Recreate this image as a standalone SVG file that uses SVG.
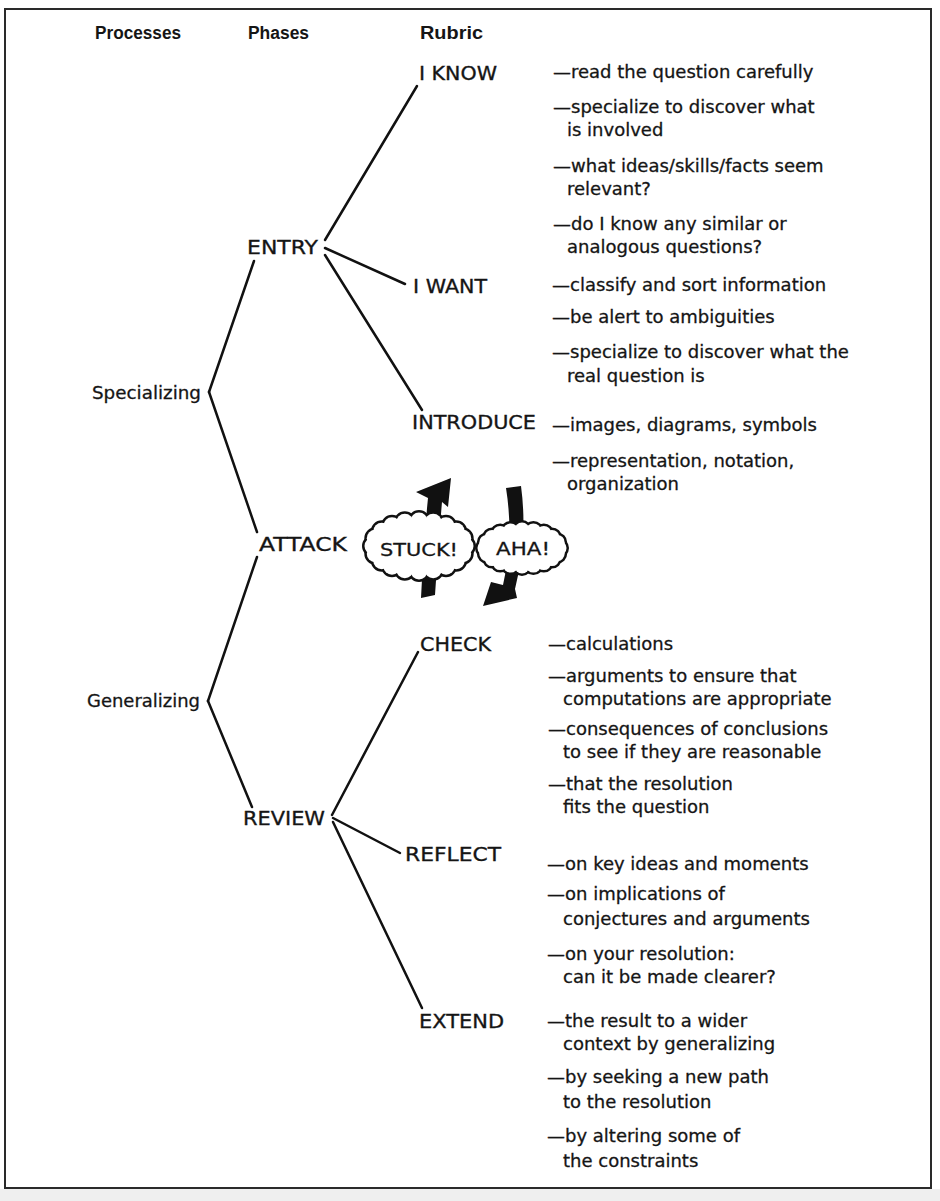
<svg xmlns="http://www.w3.org/2000/svg" width="940" height="1201" viewBox="0 0 940 1201">
<style>
.hdr{font-family:"Liberation Sans",Arial,sans-serif;font-weight:bold;font-size:18px;fill:#151515}
.proc{font-family:"DejaVu Sans",sans-serif;font-size:18px;fill:#151515;stroke:#151515;stroke-width:0.3}
.lbl{font-family:"DejaVu Sans",sans-serif;font-size:20px;fill:#151515;stroke:#151515;stroke-width:0.35}
.rub{font-family:"DejaVu Sans",sans-serif;font-size:18px;fill:#151515;stroke:#151515;stroke-width:0.3}
.cl{font-family:"DejaVu Sans",sans-serif;font-size:18px;fill:#151515;stroke:#151515;stroke-width:0.3}
.conn line{stroke:#111;stroke-width:2.5;stroke-linecap:round}
.cs{fill:#fff;stroke:#111;stroke-width:5}
.cf{fill:#fff;stroke:none}
.arr{fill:#111}
</style>
<defs>
<g id="cloudA">
<circle cx="46" cy="0" r="8.5"/><circle cx="43.7" cy="7.7" r="8.5"/><circle cx="37.2" cy="14.7" r="8.5"/><circle cx="27" cy="20.2" r="8.5"/><circle cx="14.2" cy="23.8" r="8.5"/><circle cx="0" cy="25" r="8.5"/><circle cx="-14.2" cy="23.8" r="8.5"/><circle cx="-27" cy="20.2" r="8.5"/><circle cx="-37.2" cy="14.7" r="8.5"/><circle cx="-43.7" cy="7.7" r="8.5"/><circle cx="-46" cy="0" r="8.5"/><circle cx="-43.7" cy="-7.7" r="8.5"/><circle cx="-37.2" cy="-14.7" r="8.5"/><circle cx="-27" cy="-20.2" r="8.5"/><circle cx="-14.2" cy="-23.8" r="8.5"/><circle cx="0" cy="-25" r="8.5"/><circle cx="14.2" cy="-23.8" r="8.5"/><circle cx="27" cy="-20.2" r="8.5"/><circle cx="37.2" cy="-14.7" r="8.5"/><circle cx="43.7" cy="-7.7" r="8.5"/>
</g>
<g id="cloudB">
<circle cx="37" cy="0" r="7.5"/><circle cx="35.2" cy="5.6" r="7.5"/><circle cx="29.9" cy="10.6" r="7.5"/><circle cx="21.8" cy="14.6" r="7.5"/><circle cx="11.4" cy="17.1" r="7.5"/><circle cx="0" cy="18" r="7.5"/><circle cx="-11.4" cy="17.1" r="7.5"/><circle cx="-21.8" cy="14.6" r="7.5"/><circle cx="-29.9" cy="10.6" r="7.5"/><circle cx="-35.2" cy="5.6" r="7.5"/><circle cx="-37" cy="0" r="7.5"/><circle cx="-35.2" cy="-5.6" r="7.5"/><circle cx="-29.9" cy="-10.6" r="7.5"/><circle cx="-21.8" cy="-14.6" r="7.5"/><circle cx="-11.4" cy="-17.1" r="7.5"/><circle cx="0" cy="-18" r="7.5"/><circle cx="11.4" cy="-17.1" r="7.5"/><circle cx="21.8" cy="-14.6" r="7.5"/><circle cx="29.9" cy="-10.6" r="7.5"/><circle cx="35.2" cy="-5.6" r="7.5"/>
</g>
</defs>

<rect x="0" y="0" width="940" height="1201" fill="#fff"/>
<rect x="0" y="1189" width="940" height="12" fill="#efefef"/>
<rect id="frame" x="5" y="9" width="926" height="1179" fill="#fff" stroke="#2a2a2a" stroke-width="2"/>

<g id="headers">
<text class="hdr" x="95" y="39" textLength="86" lengthAdjust="spacingAndGlyphs">Processes</text>
<text class="hdr" x="248" y="39" textLength="61" lengthAdjust="spacingAndGlyphs">Phases</text>
<text class="hdr" x="420" y="39" textLength="63" lengthAdjust="spacingAndGlyphs">Rubric</text>
</g>

<g id="connectors" class="conn">
<line x1="209" y1="392" x2="254" y2="261"/>
<line x1="209" y1="392" x2="257" y2="532"/>
<line x1="208" y1="701" x2="257" y2="557"/>
<line x1="208" y1="701" x2="252" y2="807"/>
<line x1="325" y1="240" x2="417" y2="86"/>
<line x1="325" y1="248" x2="405" y2="284"/>
<line x1="325" y1="255" x2="422" y2="410"/>
<line x1="332" y1="815" x2="418" y2="652"/>
<line x1="333" y1="818" x2="400" y2="853"/>
<line x1="333" y1="822" x2="422" y2="1008"/>
</g>

<g id="specializing"><text class="proc" x="92" y="399" textLength="109" lengthAdjust="spacingAndGlyphs">Specializing</text></g>
<g id="generalizing"><text class="proc" x="87" y="707" textLength="113" lengthAdjust="spacingAndGlyphs">Generalizing</text></g>

<g id="entry"><text class="lbl" x="247" y="254" textLength="71" lengthAdjust="spacingAndGlyphs">ENTRY</text></g>
<g id="attack"><text class="lbl" x="259" y="551" textLength="88" lengthAdjust="spacingAndGlyphs">ATTACK</text></g>
<g id="review"><text class="lbl" x="243" y="825" textLength="82" lengthAdjust="spacingAndGlyphs">REVIEW</text></g>

<g id="iknow"><text class="lbl" x="419" y="80" textLength="78" lengthAdjust="spacingAndGlyphs">I KNOW</text></g>
<g id="iwant"><text class="lbl" x="413" y="293" textLength="74" lengthAdjust="spacingAndGlyphs">I WANT</text></g>
<g id="introduce"><text class="lbl" x="412" y="429" textLength="124" lengthAdjust="spacingAndGlyphs">INTRODUCE</text></g>
<g id="check"><text class="lbl" x="420" y="651" textLength="71" lengthAdjust="spacingAndGlyphs">CHECK</text></g>
<g id="reflect"><text class="lbl" x="405" y="861" textLength="96" lengthAdjust="spacingAndGlyphs">REFLECT</text></g>
<g id="extend"><text class="lbl" x="419" y="1028" textLength="85" lengthAdjust="spacingAndGlyphs">EXTEND</text></g>

<g id="iknow-text" class="rub">
<text x="553" y="78">—read the question carefully</text>
<text x="553" y="113">—specialize to discover what</text>
<text x="567" y="136">is involved</text>
<text x="553" y="172">—what ideas/skills/facts seem</text>
<text x="567" y="195">relevant?</text>
<text x="553" y="230">—do I know any similar or</text>
<text x="567" y="253">analogous questions?</text>
</g>
<g id="iwant-text" class="rub">
<text x="552" y="291">—classify and sort information</text>
<text x="552" y="323">—be alert to ambiguities</text>
<text x="552" y="358">—specialize to discover what the</text>
<text x="567" y="382">real question is</text>
</g>
<g id="introduce-text" class="rub">
<text x="552" y="431">—images, diagrams, symbols</text>
<text x="552" y="467">—representation, notation,</text>
<text x="567" y="490">organization</text>
</g>
<g id="check-text" class="rub">
<text x="548" y="650">—calculations</text>
<text x="548" y="682">—arguments to ensure that</text>
<text x="563" y="705">computations are appropriate</text>
<text x="548" y="735">—consequences of conclusions</text>
<text x="563" y="758">to see if they are reasonable</text>
<text x="548" y="790">—that the resolution</text>
<text x="563" y="813">fits the question</text>
</g>
<g id="reflect-text" class="rub">
<text x="547" y="870">—on key ideas and moments</text>
<text x="547" y="900">—on implications of</text>
<text x="563" y="925">conjectures and arguments</text>
<text x="547" y="960">—on your resolution:</text>
<text x="563" y="983">can it be made clearer?</text>
</g>
<g id="extend-text" class="rub">
<text x="547" y="1027">—the result to a wider</text>
<text x="563" y="1050">context by generalizing</text>
<text x="547" y="1083">—by seeking a new path</text>
<text x="563" y="1108">to the resolution</text>
<text x="547" y="1142">—by altering some of</text>
<text x="563" y="1167">the constraints</text>
</g>

<g id="arrows">
<path class="arr" d="M421,598 L435,595 Q438,548 442,502 L448,507 L451,478 L416,492 L428,498 Q423,548 421,598 Z"/>
<path class="arr" d="M506,488 L521,486 Q528,538 515,589 L517,598 L483,606 L491,582 L503,585 Q514,538 506,488 Z"/>
</g>

<g id="stuck" transform="translate(419,546)">
<use href="#cloudA" class="cs"/>
<use href="#cloudA" class="cf"/>
<ellipse rx="46" ry="25" fill="#fff"/>
<text class="cl" x="-39" y="10" textLength="78" lengthAdjust="spacingAndGlyphs">STUCK!</text>
</g>
<g id="aha" transform="translate(522,548)">
<use href="#cloudB" class="cs"/>
<use href="#cloudB" class="cf"/>
<ellipse rx="37" ry="18" fill="#fff"/>
<text class="cl" x="-26" y="7" textLength="54" lengthAdjust="spacingAndGlyphs">AHA!</text>
</g>
</svg>
